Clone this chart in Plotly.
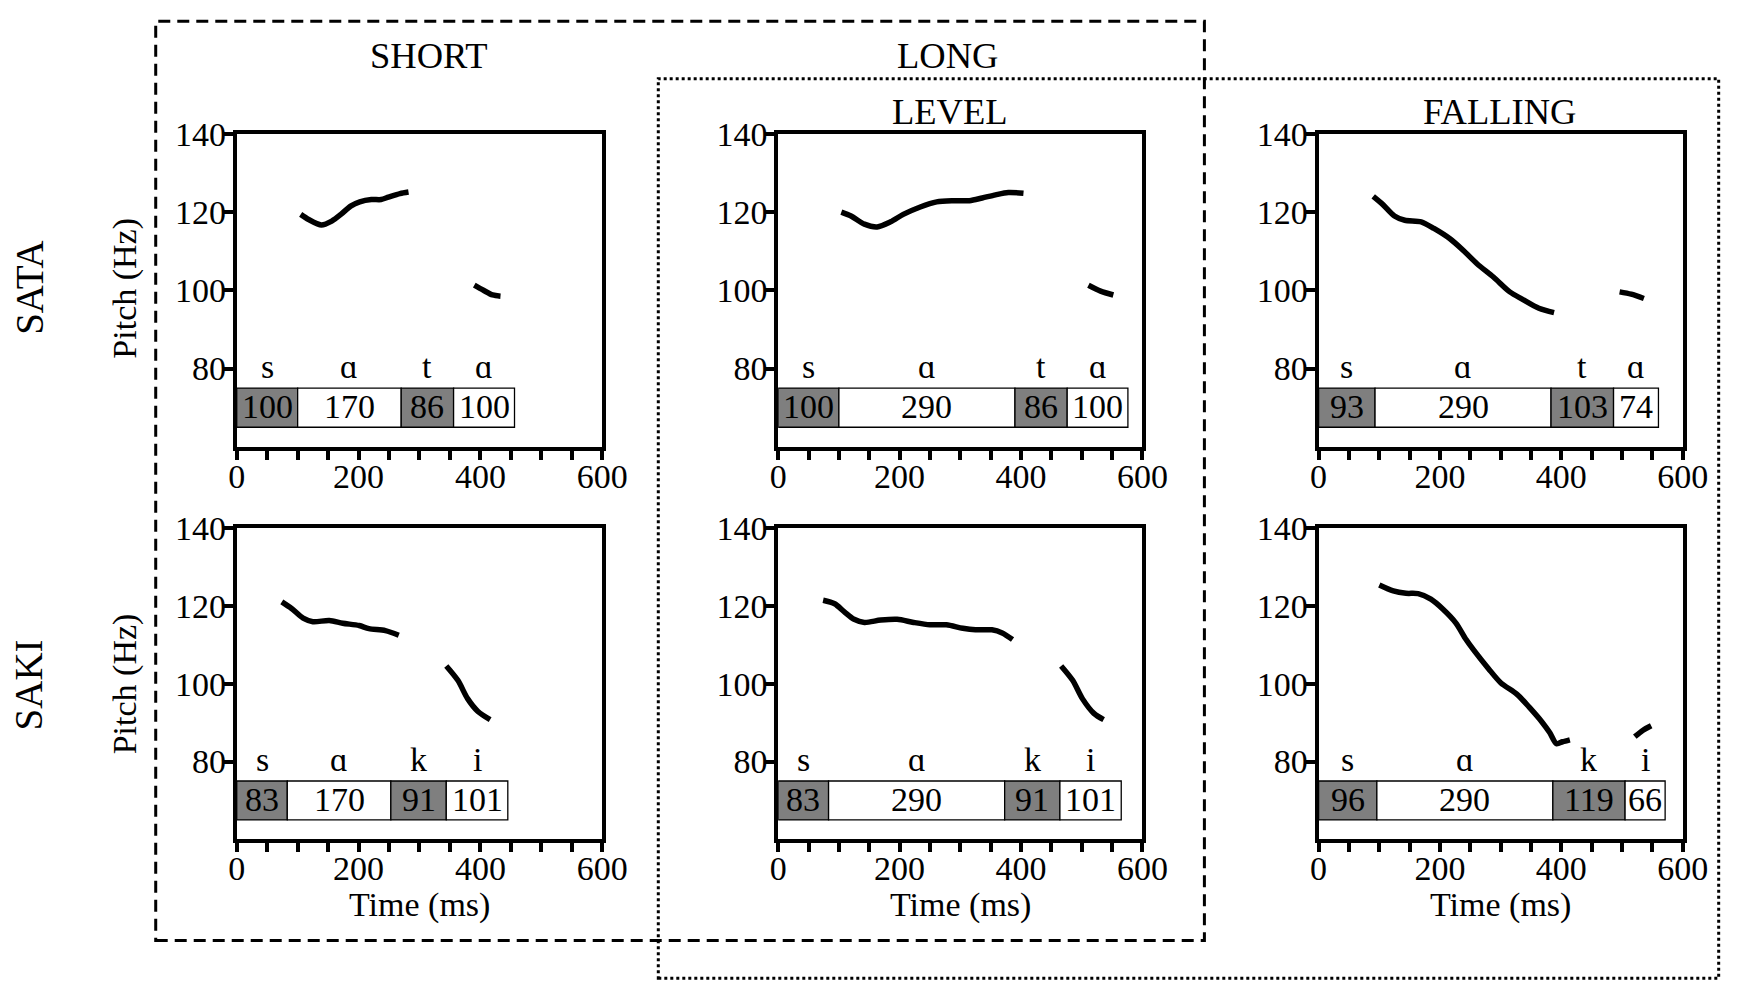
import plotly.graph_objects as go
from plotly.subplots import make_subplots

# ---------------- data ----------------
col_titles = ["SHORT", "LEVEL", "FALLING"]
row_titles = ["SATA", "SAKI"]
segments_sata = ["s", "ɑ", "t", "ɑ"]
segments_saki = ["s", "ɑ", "k", "i"]
seg_is_consonant = [True, False, True, False]

dur_sata_short = [100, 170, 86, 100]
dur_sata_level = [100, 290, 86, 100]
dur_sata_falling = [93, 290, 103, 74]
dur_saki_short = [83, 170, 91, 101]
dur_saki_level = [83, 290, 91, 101]
dur_saki_falling = [96, 290, 119, 66]

# pitch contours (ms, Hz): two voiced stretches per word
sata_short_t1 = [105, 118, 139, 156, 171, 187, 202, 221, 237, 249, 268, 282]
sata_short_f1 = [119.4, 118.1, 116.7, 117.7, 119.4, 121.5, 122.6, 123.2, 123.2, 123.8, 124.7, 125.1]
sata_short_t2 = [390, 405, 420, 433]
sata_short_f2 = [101.3, 100.0, 98.8, 98.5]

sata_level_t1 = [104, 120, 142, 163, 185, 206, 234, 261, 288, 315, 336, 358, 379, 404]
sata_level_f1 = [120.0, 119.0, 116.9, 116.2, 117.5, 119.4, 121.3, 122.6, 122.9, 122.9, 123.6, 124.4, 125.0, 124.8]
sata_level_t2 = [511, 531, 552]
sata_level_f2 = [101.3, 99.8, 98.8]

sata_falling_t1 = [90, 106, 125, 142, 169, 190, 217, 239, 261, 288, 315, 336, 363, 388]
sata_falling_f1 = [124.0, 121.9, 119.0, 117.9, 117.5, 115.8, 113.1, 110.1, 106.8, 103.4, 99.6, 97.7, 95.4, 94.3]
sata_falling_t2 = [496, 515, 536]
sata_falling_f2 = [99.6, 99.0, 97.9]

saki_short_t1 = [74, 90, 109, 125, 152, 174, 201, 217, 244, 266]
saki_short_f1 = [121.1, 119.4, 116.9, 116.0, 116.3, 115.6, 115.0, 114.2, 113.7, 112.5]
saki_short_t2 = [344, 363, 379, 396, 416]
saki_short_f2 = [104.6, 100.9, 96.2, 92.9, 90.8]

saki_level_t1 = [74, 93, 109, 125, 142, 169, 196, 223, 250, 277, 304, 325, 352, 369, 386]
saki_level_f1 = [121.5, 120.6, 118.5, 116.6, 115.8, 116.4, 116.6, 115.8, 115.2, 115.2, 114.3, 113.9, 113.9, 113.1, 111.4]
saki_level_t2 = [466, 485, 501, 520, 536]
saki_level_f2 = [104.6, 100.9, 96.2, 92.4, 90.8]

saki_falling_t1 = [100, 123, 144, 164, 185, 205, 226, 243, 256, 280, 300, 327, 347, 368, 381, 392, 402, 414]
saki_falling_f1 = [125.4, 123.9, 123.3, 123.2, 121.8, 119.2, 115.7, 111.4, 108.6, 103.9, 100.3, 97.3, 94.0, 90.2, 87.4, 84.6, 85.1, 85.6]
saki_falling_t2 = [521, 534, 548]
saki_falling_f2 = [86.4, 88.0, 89.2]

x_ticks = list(range(0, 601, 50))
x_tick_labels = [str(v) if v % 200 == 0 else "" for v in x_ticks]
y_ticks = [80, 100, 120, 140]
box_center_hz = 70
box_height_hz = 10

# ---------------- figure ----------------
FONT = "Liberation Serif"
GRAY = "#7f7f7f"

panels = [
    (1, 1, segments_sata, dur_sata_short, sata_short_t1, sata_short_f1, sata_short_t2, sata_short_f2),
    (1, 2, segments_sata, dur_sata_level, sata_level_t1, sata_level_f1, sata_level_t2, sata_level_f2),
    (1, 3, segments_sata, dur_sata_falling, sata_falling_t1, sata_falling_f1, sata_falling_t2, sata_falling_f2),
    (2, 1, segments_saki, dur_saki_short, saki_short_t1, saki_short_f1, saki_short_t2, saki_short_f2),
    (2, 2, segments_saki, dur_saki_level, saki_level_t1, saki_level_f1, saki_level_t2, saki_level_f2),
    (2, 3, segments_saki, dur_saki_falling, saki_falling_t1, saki_falling_f1, saki_falling_t2, saki_falling_f2),
]

fig = make_subplots(rows=2, cols=3)

x_domains = [[0.1324, 0.3449], [0.4472, 0.6590], [0.7614, 0.9731]]
y_domains = [[0.5575, 0.8805], [0.1524, 0.4733]]

annotations = []
for (r, c, segs, durs, t1, f1, t2, f2) in panels:
    starts = []
    acc = 0
    for d in durs:
        starts.append(acc)
        acc += d
    colors = [GRAY if cons else "white" for cons in seg_is_consonant]
    fig.add_trace(go.Bar(
        orientation="h", y=[box_center_hz] * len(durs), x=durs, base=starts,
        width=box_height_hz, marker=dict(color=colors, line=dict(color="black", width=1.3)),
        showlegend=False, hoverinfo="skip"), row=r, col=c)
    for t, f in ((t1, f1), (t2, f2)):
        fig.add_trace(go.Scatter(
            x=t, y=f, mode="lines", line=dict(color="black", width=5.5, shape="spline", smoothing=0.8),
            showlegend=False, hoverinfo="skip"), row=r, col=c)
    idx = (r - 1) * 3 + c
    xr = "x" if idx == 1 else f"x{idx}"
    yr = "y" if idx == 1 else f"y{idx}"
    for s0, d, lab in zip(starts, durs, segs):
        annotations.append(dict(x=s0 + d / 2, y=box_center_hz + 0.3, xref=xr, yref=yr, text=str(d),
                                showarrow=False, font=dict(family=FONT, size=34, color="black"),
                                xanchor="center", yanchor="middle"))
        annotations.append(dict(x=s0 + d / 2, y=box_center_hz + box_height_hz / 2 + 0.2, xref=xr, yref=yr,
                                text=lab, showarrow=False, font=dict(family=FONT, size=34, color="black"),
                                xanchor="center", yanchor="bottom"))

axis_common = dict(showline=True, linecolor="black", linewidth=4, mirror=True, ticks="outside",
                   ticklen=9, tickwidth=3.5, tickcolor="black", showgrid=False, zeroline=False,
                   tickfont=dict(family=FONT, size=34, color="black"))
for r in (1, 2):
    for c in (1, 2, 3):
        fig.update_xaxes(domain=x_domains[c - 1], range=[0, 600], tickmode="array", tickvals=x_ticks,
                         ticktext=x_tick_labels, ticklabelstandoff=-13, row=r, col=c, **axis_common)
        fig.update_yaxes(domain=y_domains[r - 1], range=[60, 140], tickmode="array", tickvals=y_ticks,
                         ticklabelstandoff=-9, row=r, col=c, **axis_common)

def paper_text(text, x, y, size, angle=0):
    return dict(x=x, y=y, xref="paper", yref="paper", text=text, showarrow=False,
                font=dict(family=FONT, size=size, color="black"), xanchor="center", yanchor="middle",
                textangle=angle)

annotations += [
    paper_text("SHORT", 0.2438, 0.9613, 36.5),
    paper_text("LONG", 0.5457, 0.9613, 36.5),
    paper_text("LEVEL", 0.5470, 0.9033, 36.5),
    paper_text("FALLING", 0.8663, 0.9033, 36.5),
    paper_text("SATA", 0.0115, 0.7213, 39, -90),
    paper_text("SAKI", 0.0115, 0.3120, 39, -90),
    paper_text("Pitch (Hz)", 0.0672, 0.7213, 34, -90),
    paper_text("Pitch (Hz)", 0.0672, 0.3130, 34, -90),
    paper_text("Time (ms)", 0.2387, 0.0842, 34),
    paper_text("Time (ms)", 0.5531, 0.0842, 34),
    paper_text("Time (ms)", 0.8673, 0.0842, 34),
]

shapes = [
    dict(type="rect", xref="paper", yref="paper", x0=0.0853, x1=0.6950, y0=0.0480, y1=0.9966,
         line=dict(color="black", width=3, dash="12px,7px"), fillcolor="rgba(0,0,0,0)", layer="above"),
    dict(type="rect", xref="paper", yref="paper", x0=0.3775, x1=0.9940, y0=0.0090, y1=0.9374,
         line=dict(color="black", width=3, dash="3px,3px"), fillcolor="rgba(0,0,0,0)", layer="above"),
]

fig.update_layout(width=1755, height=987, margin=dict(l=0, r=0, t=0, b=0),
                  paper_bgcolor="white", plot_bgcolor="white", showlegend=False,
                  annotations=annotations, shapes=shapes, barmode="overlay",
                  font=dict(family=FONT, color="black"))

fig.write_html("out.html", config={"displayModeBar": False},
               post_script="document.body.style.margin='0px';document.body.style.overflow='hidden';")
